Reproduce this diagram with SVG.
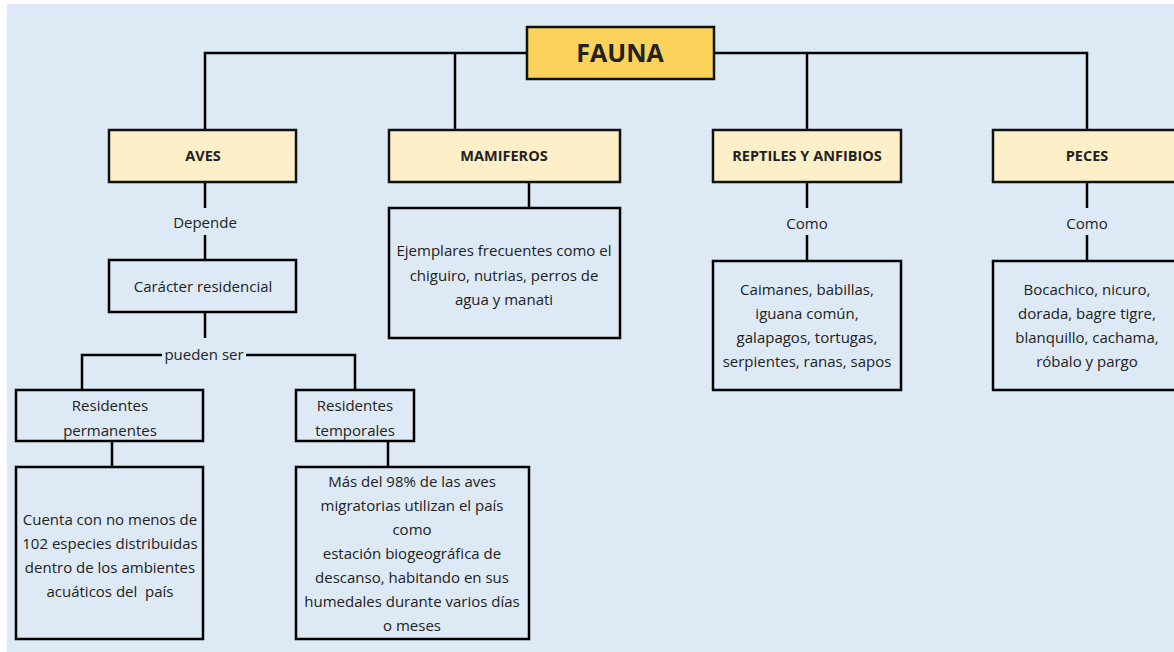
<svg xmlns="http://www.w3.org/2000/svg" width="1174" height="652" viewBox="0 0 1174 652">
<style>
.bg{fill:#dde9f5}
.box{fill:none;stroke:#000;stroke-width:2.5}
.hdr{fill:#fdefc8;stroke:#111;stroke-width:2.5}
.root{fill:#fbd25a;stroke:#111;stroke-width:2.5}
.ln{fill:none;stroke:#000;stroke-width:2.5}
text{font-family:"Open Sans","Liberation Sans",sans-serif;fill:#222;text-anchor:middle;font-size:15px}
.b{font-weight:bold;font-size:14.5px}
.big{font-weight:bold;font-size:25px}
</style>
<rect x="0" y="0" width="1174" height="652" fill="#fff"/>
<rect class="bg" x="7" y="4" width="1167" height="648"/>
<g id="connectors">
<path class="ln" d="M527 53 H205 V130 M455 53 V130 M714 53 H1087 V130 M807 53 V130"/>
<path class="ln" d="M205 182 V208 M205 235 V260 M205 312 V338"/>
<path class="ln" d="M162 355 H82 V390 M246 355 H355 V390"/>
<path class="ln" d="M112 441 V467 M388 441 V467"/>
<path class="ln" d="M529 182 V208"/>
<path class="ln" d="M807 182 V208 M807 235 V261"/>
<path class="ln" d="M1087 182 V208 M1087 235 V261"/>
<text x="205" y="228">Depende</text>
<text x="204" y="360">pueden ser</text>
<text x="807" y="229">Como</text>
<text x="1087" y="229">Como</text>
</g>
<g id="fauna"><rect class="root" x="527" y="27" width="187" height="52"/><text class="big" x="620" y="62">FAUNA</text></g>
<g id="aves"><rect class="hdr" x="109" y="130" width="187" height="52"/><text class="b" x="203" y="161">AVES</text></g>
<g id="mamiferos"><rect class="hdr" x="389" y="130" width="231" height="52"/><text class="b" x="504" y="161">MAMIFEROS</text></g>
<g id="reptiles"><rect class="hdr" x="713" y="130" width="188" height="52"/><text class="b" x="807" y="161">REPTILES Y ANFIBIOS</text></g>
<g id="peces"><rect class="hdr" x="993" y="130" width="190" height="52"/><text class="b" x="1087" y="161">PECES</text></g>
<g id="caracter"><rect class="box" x="109" y="260" width="187" height="52"/><text x="203" y="292">Carácter residencial</text></g>
<g id="permanentes"><rect class="box" x="16" y="390" width="187" height="51"/><text x="110" y="411">Residentes</text><text x="110" y="436">permanentes</text></g>
<g id="temporales"><rect class="box" x="296" y="390" width="118" height="51"/><text x="355" y="411">Residentes</text><text x="355" y="436">temporales</text></g>
<g id="cuenta"><rect class="box" x="16" y="467" width="187" height="172"/><text x="110" y="525">Cuenta con no menos de</text><text x="110" y="549">102 especies distribuidas</text><text x="110" y="573">dentro de los ambientes</text><text x="110" y="597">acuáticos del&#160; país</text></g>
<g id="mas"><rect class="box" x="296" y="467" width="233" height="172"/><text x="412" y="487">Más del 98% de las aves</text><text x="412" y="511">migratorias utilizan el país</text><text x="412" y="535">como</text><text x="412" y="559">estación biogeográfica de</text><text x="412" y="583">descanso, habitando en sus</text><text x="412" y="607">humedales durante varios días</text><text x="412" y="631">o meses</text></g>
<g id="ejemplares"><rect class="box" x="389" y="208" width="231" height="130"/><text x="504" y="256">Ejemplares frecuentes como el</text><text x="504" y="281">chiguiro, nutrias, perros de</text><text x="504" y="305">agua y manati</text></g>
<g id="caimanes"><rect class="box" x="713" y="261" width="188" height="129"/><text x="807" y="295">Caimanes, babillas,</text><text x="807" y="319">iguana común,</text><text x="807" y="343">galapagos, tortugas,</text><text x="807" y="367">serpientes, ranas, sapos</text></g>
<g id="bocachico"><rect class="box" x="993" y="261" width="190" height="129"/><text x="1087" y="295">Bocachico, nicuro,</text><text x="1087" y="319">dorada, bagre tigre,</text><text x="1087" y="343">blanquillo, cachama,</text><text x="1087" y="367">róbalo y pargo</text></g>
</svg>
